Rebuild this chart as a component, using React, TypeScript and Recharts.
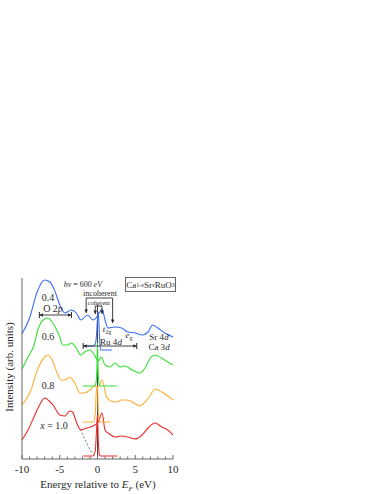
import { LineChart, Line, XAxis, YAxis, ReferenceLine } from 'recharts'

// energy (eV) and intensity (arb. units)
const blueE = [-10, -9, -8, -7, -6.3, -5.6, -5, -4.3, -3.5, -2.8, -2.2, -1.3, -0.6, -0.2, 0.3, 0.6, 1.0, 1.4, 2.3, 3.2, 4.0, 5.0, 5.9, 6.7, 7.3, 8.0, 8.9, 10]
const blueV = [125, 141, 167, 179, 177, 167, 154, 146, 149, 146, 139, 144, 139, 141, 147, 150, 139, 131, 132, 131, 127, 126, 124, 127, 134, 131, 126, 122]

const greenE = [-10, -9.2, -8.4, -7.9, -7.2, -6.6, -6.0, -5.4, -5.0, -4.6, -3.9, -3.5, -2.8, -2.2, -1.7, -1.0, -0.4, 0.1, 0.5, 1.0, 1.7, 2.3, 3.0, 3.6, 4.6, 5.6, 6.3, 7.0, 7.6, 8.5, 9.3, 10]
const greenV = [90, 102, 114, 129, 139, 141, 137, 129, 122, 114, 114, 116, 111, 104, 107, 109, 104, 98, 102, 94, 92, 96, 92, 93, 89, 86, 91, 101, 104, 101, 97, 94]

const orangeE = [-10, -9.5, -8.8, -8.2, -7.6, -7.0, -6.6, -6.0, -5.4, -4.8, -4.3, -3.7, -3.0, -2.3, -1.7, -1.0, -0.4, 0.1, 0.6, 1.2, 1.8, 2.5, 3.2, 3.9, 4.6, 5.6, 6.3, 7.0, 7.6, 8.5, 9.3, 10]
const orangeV = [54, 59, 69, 84, 95, 102, 104, 99, 87, 79, 79, 82, 76, 66, 66, 69, 73, 72, 79, 62, 58, 57, 59, 59, 57, 53, 57, 64, 70, 67, 63, 59]

const redE = [-10, -9.2, -8.3, -7.6, -7.0, -6.4, -5.8, -5.0, -4.3, -3.7, -3.3, -2.8, -2.2, -1.4, -0.6, 0.1, 0.6, 1.0, 1.6, 2.3, 3.2, 4.0, 5.0, 5.9, 6.7, 7.6, 8.5, 9.3, 10]
const redV = [19, 29, 44, 55, 61, 58, 53, 44, 43, 48, 47, 37, 29, 31, 33, 37, 46, 29, 25, 22, 23, 22, 20, 24, 31, 36, 32, 29, 24]

// high-resolution spectra near E_F
const blueEfE = [-1.9, -0.6, -0.3, -0.15, 0, 0.1, 0.25, 0.4, 1.9]
const blueEfV = [113, 113, 115, 122, 140, 147, 125, 109, 109]
const greenEfE = [-1.9, -0.4, -0.2, -0.08, 0, 0.08, 0.2, 0.4, 2.6]
const greenEfV = [73, 73, 76, 90, 116, 90, 75, 73, 73]
const orangeEfE = [-1.9, -0.5, -0.3, -0.15, 0, 0.1, 0.25, 0.4, 1.7]
const orangeEfV = [37, 37, 45, 68, 72, 50, 38, 37, 37]
const redEfE = [-1.9, -0.6, -0.3, -0.12, 0, 0.1, 0.25, 0.4, 2.6]
const redEfV = [3, 3, 8, 30, 44, 20, 4, 3, 3]

// background under the x = 1.0 spectrum
const bgE = [-2.3, -1.5, -0.8, -0.3]
const bgV = [30, 17, 7, 3]

const xTicks = [-10, -9, -8, -7, -6, -5, -4, -3, -2, -1, 0, 1, 2, 3, 4, 5, 6, 7, 8, 9, 10]
const majorTicks = [-10, -5, 0, 5, 10]

const pts = (e: number[], v: number[]) => e.map((x, i) => ({ e: x, v: v[i] }))

const serif = '"Liberation Serif", "DejaVu Serif", serif'
const ink = '#2a2a2a'
const frame = '#666'

const BottomTick = (props: any) => {
  const { x, y, payload } = props
  const major = majorTicks.includes(payload.value)
  return (
    <g>
      <line x1={x} x2={x} y1={y} y2={y - (major ? 4 : 2.5)} stroke={frame} />
      {major && (
        <text x={x} y={y + 14} textAnchor="middle" fontSize={11} fill={ink} fontFamily={serif}>
          {payload.value}
        </text>
      )}
    </g>
  )
}

const TopTick = (props: any) => {
  const { x, y, payload } = props
  const major = majorTicks.includes(payload.value)
  return <line x1={x} x2={x} y1={y} y2={y + (major ? 4 : 2.5)} stroke={frame} />
}

const arrowLine = (start: boolean, end: boolean) => (p: any) => (
  <line
    x1={p.x1}
    y1={p.y1}
    x2={p.x2}
    y2={p.y2}
    stroke={ink}
    strokeWidth={0.9}
    markerStart={start ? 'url(#ah)' : undefined}
    markerEnd={end ? 'url(#ah)' : undefined}
  />
)

const txt = (left: number, top: number, size: number): React.CSSProperties => ({
  position: 'absolute',
  left,
  top,
  transform: 'translate(-50%, -50%)',
  fontSize: size,
  fontFamily: serif,
  color: ink,
  whiteSpace: 'nowrap',
  lineHeight: 1,
})

export default function App() {
  const lineProps = { type: 'monotone' as const, dataKey: 'v', dot: false, strokeWidth: 1.1, isAnimationActive: false }
  return (
    <div style={{ position: 'absolute', left: 0, top: 0, width: 382, height: 494, background: '#fff' }}>
      <LineChart width={382} height={494} margin={{ top: 278, right: 209, bottom: 5, left: 0 }}>
        <defs>
          <marker id="ah" viewBox="0 0 6 6" refX="6" refY="3" markerWidth="4" markerHeight="4" orient="auto-start-reverse">
            <path d="M0,0 L6,3 L0,6 z" fill={ink} />
          </marker>
        </defs>
        <XAxis
          dataKey="e"
          type="number"
          domain={[-10, 10]}
          ticks={xTicks}
          interval={0}
          height={30}
          tickSize={0}
          tickMargin={0}
          tickLine={false}
          stroke={frame}
          tick={<BottomTick />}
        />
        <XAxis
          xAxisId="top"
          orientation="top"
          type="number"
          domain={[-10, 10]}
          ticks={xTicks}
          interval={0}
          height={0}
          tickSize={0}
          tickMargin={0}
          tickLine={false}
          stroke={frame}
          tick={<TopTick />}
        />
        <YAxis type="number" domain={[0, 181]} width={22} tick={false} tickLine={false} stroke={frame} allowDataOverflow />
        <YAxis yAxisId="r" orientation="right" type="number" domain={[0, 181]} width={0} tick={false} tickLine={false} stroke={frame} />

        <ReferenceLine segment={[{ x: 0, y: 0 }, { x: 0, y: 154 }]} stroke="#444" strokeWidth={1} />

        <Line {...lineProps} data={pts(blueE, blueV)} stroke="#3a6cf4" />
        <Line {...lineProps} data={pts(greenE, greenV)} stroke="#36e036" />
        <Line {...lineProps} data={pts(orangeE, orangeV)} stroke="#ffad33" />
        <Line {...lineProps} data={pts(redE, redV)} stroke="#ee2a2a" />

        <Line {...lineProps} data={pts(blueEfE, blueEfV)} stroke="#3a6cf4" />
        <Line {...lineProps} data={pts(greenEfE, greenEfV)} stroke="#36e036" />
        <Line {...lineProps} data={pts(orangeEfE, orangeEfV)} stroke="#ffad33" />
        <Line {...lineProps} data={pts(redEfE, redEfV)} stroke="#ee2a2a" />
        <Line {...lineProps} data={pts(bgE, bgV)} stroke="#555" strokeWidth={0.8} strokeDasharray="2 2" />

        {/* O 2p */}
        <ReferenceLine segment={[{ x: -7.7, y: 144 }, { x: -3.45, y: 144 }]} shape={arrowLine(true, true)} />
        <ReferenceLine segment={[{ x: -7.7, y: 141 }, { x: -7.7, y: 147 }]} stroke={ink} />
        <ReferenceLine segment={[{ x: -3.45, y: 141 }, { x: -3.45, y: 147 }]} stroke={ink} />
        {/* Ru 4d */}
        <ReferenceLine segment={[{ x: -1.9, y: 113 }, { x: 5.2, y: 113 }]} shape={arrowLine(true, true)} />
        <ReferenceLine segment={[{ x: -1.9, y: 110 }, { x: -1.9, y: 116 }]} stroke={ink} />
        <ReferenceLine segment={[{ x: 5.2, y: 110 }, { x: 5.2, y: 116 }]} stroke={ink} />
        {/* incoherent */}
        <ReferenceLine segment={[{ x: -1.5, y: 161 }, { x: 2.0, y: 161 }]} stroke={ink} strokeWidth={0.9} />
        <ReferenceLine segment={[{ x: -1.5, y: 161 }, { x: -1.5, y: 146 }]} shape={arrowLine(false, true)} />
        <ReferenceLine segment={[{ x: 2.0, y: 161 }, { x: 2.0, y: 136 }]} shape={arrowLine(false, true)} />
        {/* coherent */}
        <ReferenceLine segment={[{ x: -0.3, y: 153 }, { x: 0.6, y: 153 }]} stroke={ink} strokeWidth={0.9} />
        <ReferenceLine segment={[{ x: -0.3, y: 153 }, { x: -0.3, y: 145 }]} shape={arrowLine(false, true)} />
        <ReferenceLine segment={[{ x: 0.6, y: 153 }, { x: 0.6, y: 145 }]} shape={arrowLine(false, true)} />
      </LineChart>

      <div style={txt(83, 284.5, 8)}>
        <i>hν</i> = 600 <i>eV</i>
      </div>
      <div
        style={{
          position: 'absolute',
          left: 125,
          top: 277,
          width: 51,
          height: 15,
          border: `1px solid ${frame}`,
          boxSizing: 'border-box',
          background: '#fff',
          fontFamily: serif,
          fontSize: 9,
          color: ink,
          display: 'flex',
          alignItems: 'center',
          justifyContent: 'center',
          whiteSpace: 'nowrap',
        }}
      >
        Ca<sub style={{ fontSize: 6 }}>1-<i>x</i></sub>Sr<sub style={{ fontSize: 6 }}><i>x</i></sub>RuO<sub style={{ fontSize: 6 }}>3</sub>
      </div>
      <div style={txt(100, 294, 8)}>incoherent</div>
      <div style={txt(99, 302.5, 6.5)}>coherent</div>
      <div style={txt(48, 298, 10)}>0.4</div>
      <div style={txt(53, 309, 10)}>
        O 2<i>p</i>
      </div>
      <div style={txt(48, 337, 10)}>0.6</div>
      <div style={txt(48, 386, 10)}>0.8</div>
      <div style={txt(54, 426, 10)}>
        <i>x</i> = 1.0
      </div>
      <div style={txt(107, 330, 9)}>
        <i>t</i>
        <sub style={{ fontSize: 6 }}>2g</sub>
      </div>
      <div style={txt(129, 336, 9)}>
        <i>e</i>
        <sub style={{ fontSize: 6 }}>g</sub>
      </div>
      <div style={txt(111, 342, 9)}>
        Ru 4<i>d</i>
      </div>
      <div style={txt(159, 337, 9)}>
        Sr 4<i>d</i>
      </div>
      <div style={txt(159, 347, 9)}>
        Ca 3<i>d</i>
      </div>
      <div style={txt(98, 486, 11)}>
        Energy relative to <i>E</i>
        <sub style={{ fontSize: 7 }}>
          <i>F</i>
        </sub>{' '}
        (eV)
      </div>
      <div style={{ ...txt(9, 367, 11), transform: 'translate(-50%, -50%) rotate(-90deg)' }}>Intensity (arb. units)</div>
    </div>
  )
}
